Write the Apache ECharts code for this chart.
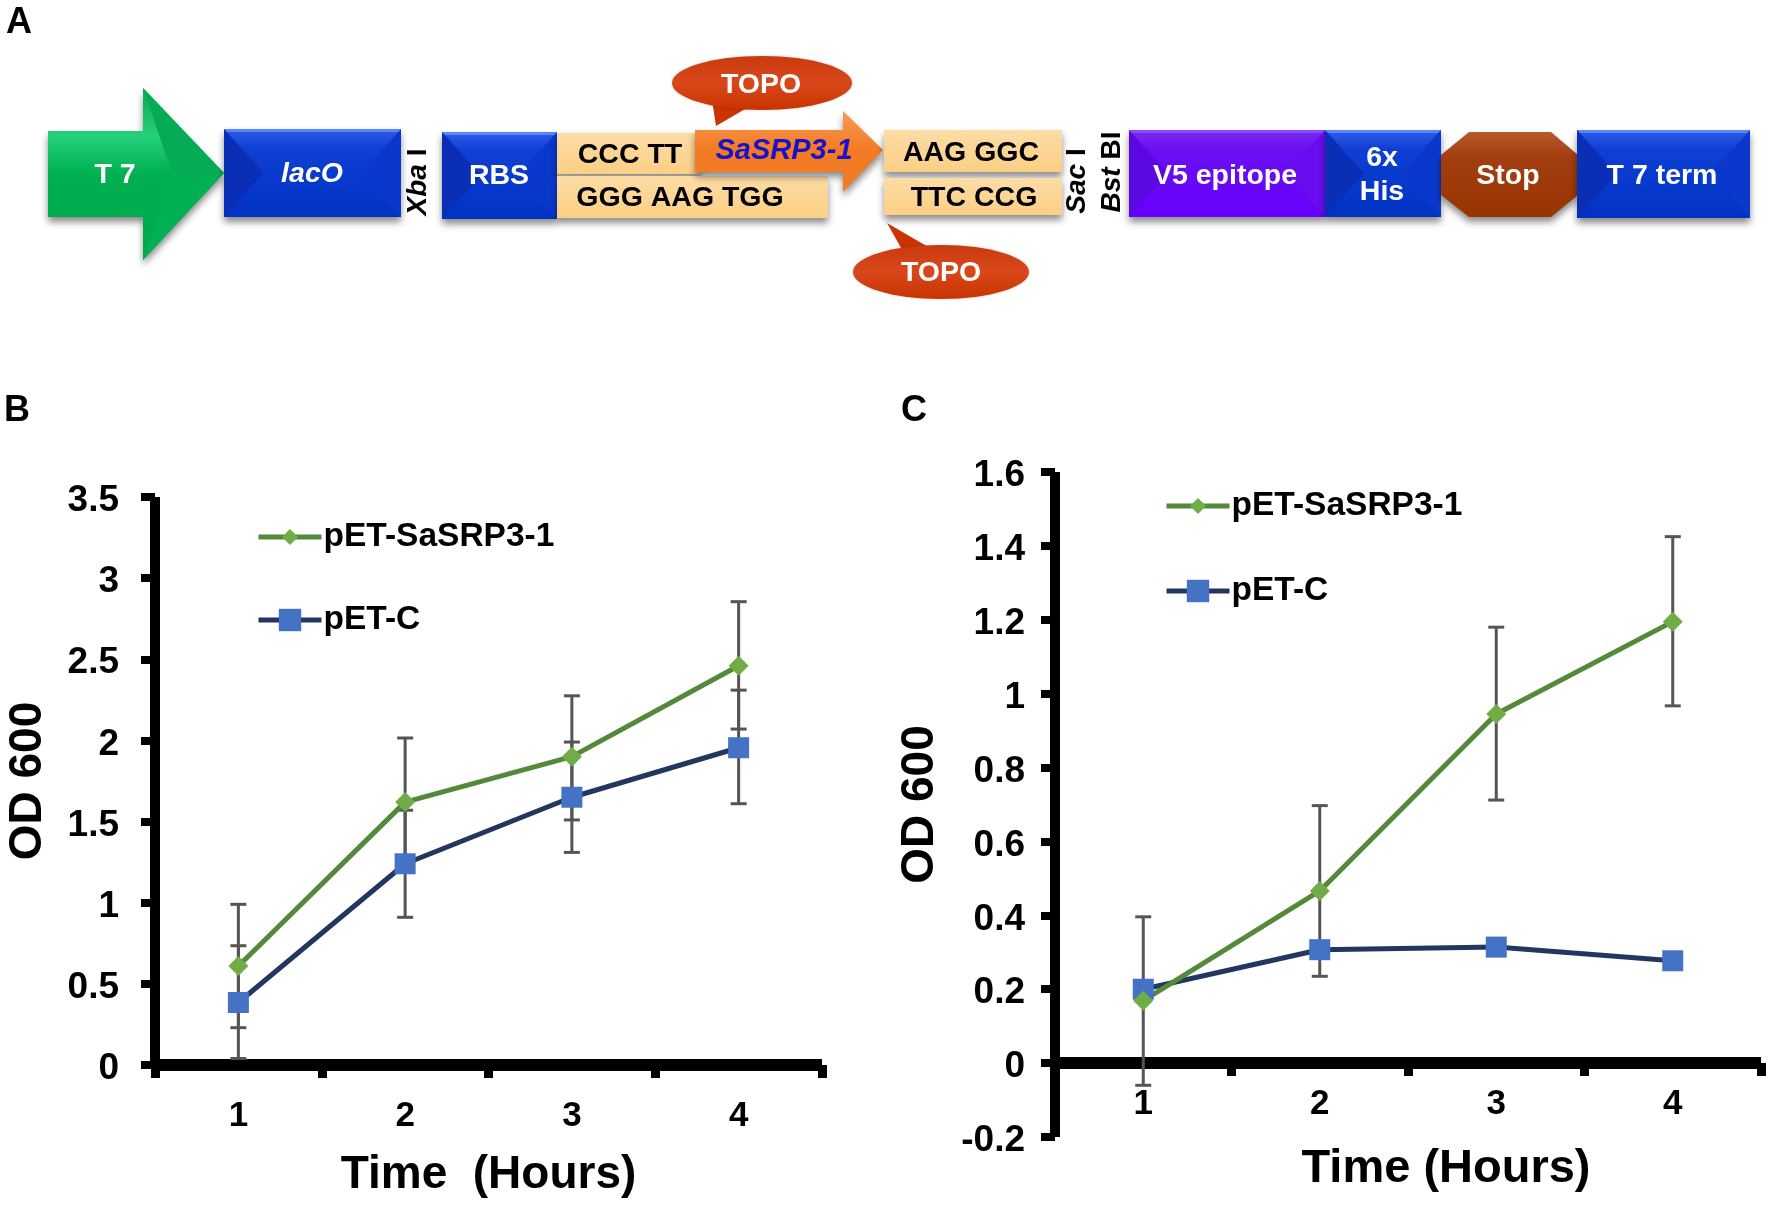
<!DOCTYPE html>
<html><head><meta charset="utf-8">
<style>html,body{margin:0;padding:0;background:#fff}#c{width:1774px;height:1205px}</style>
<script src="https://cdn.jsdelivr.net/npm/echarts@6/dist/echarts.min.js"></script>
</head><body><div id="c"></div>
<script>
const hours = ['1','2','3','4'];
const nameGreen = 'pET-SaSRP3-1';
const nameBlue = 'pET-C';
// Panel B
const bGreen = [0.61,1.62,1.90,2.46];
const bGreenLow = [0.23,1.23,1.51,2.07];
const bGreenHigh = [0.99,2.015,2.275,2.855];
const bBlue = [0.385,1.24,1.65,1.955];
const bBlueLow = [0.04,0.91,1.31,1.61];
const bBlueHigh = [0.735,1.57,1.99,2.31];
// Panel C
const cGreen = [0.169,0.466,0.945,1.195];
const cGreenLow = [-0.06,0.235,0.712,0.967];
const cGreenHigh = [0.396,0.697,1.18,1.425];
const cBlue = [0.20,0.307,0.314,0.277];

const FONT = '"Liberation Sans", Arial, sans-serif';
const GREEN_LINE = '#55893a', GREEN_MARK = '#70ad47', BLUE_LINE = '#22365f', BLUE_MARK = '#4472c4', ERR = '#555555';

function axisX(gridIndex, nameGap, pad, margin, nameSize){
  return {type:'category',gridIndex,data:hours,boundaryGap:true,
    axisLine:{show:true,onZero:true,lineStyle:{color:'#000',width:12,cap:'butt'}},
    axisTick:{show:true,alignWithLabel:false,length:13,lineStyle:{color:'#000',width:9}},
    axisLabel:{color:'#000',fontFamily:FONT,fontSize:35,fontWeight:'bold',margin},
    splitLine:{show:false},
    name:'Time'+(gridIndex===0?'  ':' ')+'(Hours)',nameLocation:'middle',nameGap,nameMoveOverlap:false,
    nameTextStyle:{color:'#000',fontFamily:FONT,fontSize:nameSize,fontWeight:'bold',padding:pad}};
}
function axisY(gridIndex,min,max,interval,nameGap,margin){
  return {type:'value',gridIndex,min,max,interval,
    axisLine:{show:true,onZero:false,lineStyle:{color:'#000',width:10,cap:'butt'}},
    axisTick:{show:true,length:14,lineStyle:{color:'#000',width:8}},
    axisLabel:{color:'#000',fontFamily:FONT,fontSize:37,fontWeight:'bold',margin,verticalAlign:'top',lineHeight:8},
    splitLine:{show:false},
    name:'OD 600',nameLocation:'middle',nameGap,nameRotate:90,nameMoveOverlap:false,
    nameTextStyle:{color:'#000',fontFamily:FONT,fontSize:46,fontWeight:'bold'}};
}
function lineSeries(name,data,i,lineColor,markColor,symbol,size,width){
  return {type:'line',name,data,xAxisIndex:i,yAxisIndex:i,symbol,symbolSize:size,showSymbol:true,
    lineStyle:{color:lineColor,width},itemStyle:{color:markColor},z:5,animation:false,clip:false};
}
function errSeries(i,low,high){
  return {type:'custom',xAxisIndex:i,yAxisIndex:i,silent:true,z:3,animation:false,clip:false,
    data:hours.map((h,k)=>[k,low[k],high[k]]),
    encode:{x:0,y:[1,2]},
    renderItem(params,api){
      const a=api.coord([api.value(0),api.value(1)]), b=api.coord([api.value(0),api.value(2)]);
      const st={stroke:ERR,lineWidth:3,fill:null}, cap=8;
      return {type:'group',children:[
        {type:'line',shape:{x1:a[0],y1:a[1],x2:b[0],y2:b[1]},style:st},
        {type:'line',shape:{x1:a[0]-cap,y1:a[1],x2:a[0]+cap,y2:a[1]},style:st},
        {type:'line',shape:{x1:b[0]-cap,y1:b[1],x2:b[0]+cap,y2:b[1]},style:st}]};
    }};
}
function legendOne(name,left,top,h,lw,color){
  return {data:[name],left,top,itemWidth:63,itemHeight:h,itemGap:0,orient:'vertical',selectedMode:false,padding:0,
    lineStyle:{width:lw,color},
    textStyle:{color:'#000',fontFamily:FONT,fontSize:33.5,fontWeight:'bold',padding:[0,0,0,-3]}};
}

/* ---------- Panel A schematic (construct map, not data) ---------- */
const SH={shadowBlur:7,shadowOffsetY:5,shadowColor:'rgba(0,0,0,0.45)'};
function grad(c0,c1,c2){return {type:'linear',x:0,y:0,x2:0,y2:1,colorStops:[{offset:0,color:c0},{offset:0.22,color:c1},{offset:1,color:c2}]};}
function poly(points,fill,extra){return Object.assign({type:'polygon',shape:{points},style:Object.assign({fill},extra||{})});}
function box(x0,y0,x1,y1,pal){
  const d=Math.min((y1-y0)/2,(x1-x0)/2)*0.9, ym=(y0+y1)/2;
  return [
    {type:'rect',shape:{x:x0,y:y0,width:x1-x0,height:y1-y0},style:Object.assign({fill:grad(pal[0],pal[1],pal[2])},SH)},
    poly([[x0,y0],[x0+d,ym],[x0,y1]],pal[3]),
    poly([[x1,y0],[x1-d,ym],[x1,y1]],pal[5]),
    poly([[x0,y0],[x1,y0],[x1-3,y0+3],[x0+3,y0+3]],pal[4])
  ];
}
function flat(x0,y0,x1,y1){
  return {type:'rect',shape:{x:x0,y:y0,width:x1-x0,height:y1-y0},
    style:Object.assign({fill:{type:'linear',x:0,y:0,x2:0,y2:1,colorStops:[{offset:0,color:'#fddca6'},{offset:1,color:'#fbcf85'}]}},SH)};
}
function label(text,x,y,opt){
  return {type:'text',x,y:y+2,rotation:0,z:10,style:Object.assign({text,fontFamily:FONT,fontSize:28.5,fontWeight:'bold',
    fill:'#fff',align:'center',verticalAlign:'middle'},opt&&opt.style)};
}
function vlabel(italicPart,rest,x,y){
  return {type:'text',x,y,rotation:Math.PI/2,z:10,style:{text:'{i|'+italicPart+'} '+rest,fontFamily:FONT,fontSize:28,fontWeight:'bold',fill:'#000',
    align:'center',verticalAlign:'middle',rich:{i:{fontFamily:FONT,fontSize:28,fontWeight:'bold',fontStyle:'italic',fill:'#000'}}}};
}
const BLUE=['#2f5ce8','#0f3fd4','#0033c4','#0a2eb6','#5c86f5','#0a38cc'];
const PURPLE=['#7a2cf2','#6a10f0','#6600ff','#5c08e0','#8c4cf5','#6a0cf0'];
const black={fill:'#000'};
const callout=(cx,cy,rx,ry,tip,b0,b1)=>[
  poly([tip,b0,b1],'#cc3300'),
  {type:'ellipse',shape:{cx,cy,rx,ry},style:Object.assign({fill:{type:'linear',x:0,y:0,x2:0,y2:1,colorStops:[{offset:0,color:'#c93a10'},{offset:0.5,color:'#d9481a'},{offset:1,color:'#c83300'}]}},{shadowBlur:3,shadowColor:'rgba(0,0,0,0.2)'})}
];
const schematic=[].concat(
  [poly([[48,131],[143,131],[143,88],[224,173],[143,260],[143,217],[48,217]],
    {type:'linear',x:0,y:0,x2:0,y2:1,colorStops:[{offset:0,color:'#0aa655'},{offset:0.28,color:'#26d07c'},{offset:0.5,color:'#00b050'},{offset:1,color:'#00a84c'}]},SH),
   poly([[143,88],[224,173],[172,173]],'#06ab56'),
   poly([[143,260],[224,173],[172,173]],'#00b052')],
  box(224,129,401,217,BLUE),
  box(442,132,557,219,BLUE),
  [flat(557,133,700,174),flat(557,176,828,218)],
  [poly([[695,130],[843,130],[843,111],[883,150],[843,192],[843,172],[695,172]],
    {type:'linear',x:0,y:0,x2:0,y2:1,colorStops:[{offset:0,color:'#f99a55'},{offset:0.5,color:'#f27a22'},{offset:1,color:'#ee7d26'}]},SH)],
  [flat(884,130,1062,172),flat(884,178,1062,215)],
  box(1129,130,1325,217,PURPLE),
  box(1325,130,1441,217,BLUE),
  [poly([[1469,132],[1551,132],[1578,155],[1578,195],[1551,217],[1469,217],[1441,195],[1441,155]],
    {type:'linear',x:0,y:0,x2:0,y2:1,colorStops:[{offset:0,color:'#b85a2c'},{offset:0.3,color:'#a23e10'},{offset:1,color:'#993300'}]},SH)],
  box(1577,130,1750,218,BLUE),
  callout(762,83,90,27,[716,126],[712,100],[752,105]),
  callout(941,272,88,27,[887,223],[905,255],[930,248]),
  [
    label('T 7',115,173),
    label('lacO',312,172,{style:{fontStyle:'italic'}}),
    vlabel('Xba','I',418,182),
    label('RBS',499,174),
    label('CCC TT',630,153,{style:black}),
    label('GGG AAG TGG',680,196,{style:black}),
    label('SaSRP3-1',784,149,{style:{fill:'#1a10c8',fontStyle:'italic',fontSize:29}}),
    label('TOPO',761,83),
    label('TOPO',941,271),
    label('AAG GGC',971,151,{style:black}),
    label('TTC CCG',974,196,{style:black}),
    vlabel('Sac','I',1077,181),
    vlabel('Bst','BI',1112,172),
    label('V5 epitope',1225,174),
    label('6x',1382,156),
    label('His',1382,190),
    label('Stop',1508,174),
    label('T 7 term',1662,174),
    label('A',19,21,{style:{fill:'#000',fontSize:36}}),
    label('B',17,409,{style:{fill:'#000',fontSize:36}}),
    label('C',914,409,{style:{fill:'#000',fontSize:36}})
  ]
);

const chart=echarts.init(document.getElementById('c'),null,{renderer:'canvas',width:1774,height:1205});
chart.setOption({
  animation:false,backgroundColor:'#fff',
  grid:[{left:155,top:497,width:667,height:568,containLabel:false,outerBoundsMode:'none'},
        {left:1055,top:472,width:706,height:665,containLabel:false,outerBoundsMode:'none'}],
  xAxis:[axisX(0,87,[0,0,0,0],34,46),axisX(1,9,[0,0,0,76],-50,47)],
  yAxis:[axisY(0,0,3.5,0.5,104,36),axisY(1,-0.2,1.6,0.2,112,30)],
  legend:[
    legendOne(nameGreen,256,520,20,5,GREEN_LINE),
    legendOne(nameBlue,256,603,28,5,BLUE_LINE),
    legendOne(nameGreen,1164,489,20,5,GREEN_LINE),
    legendOne(nameBlue,1164,574,28,5,BLUE_LINE)
  ],
  tooltip:{show:false},
  series:[
    errSeries(0,bGreenLow,bGreenHigh),
    errSeries(0,bBlueLow,bBlueHigh),
    lineSeries(nameBlue,bBlue,0,BLUE_LINE,BLUE_MARK,'rect',21,5),
    lineSeries(nameGreen,bGreen,0,GREEN_LINE,GREEN_MARK,'diamond',20,5),
    errSeries(1,cGreenLow,cGreenHigh),
    lineSeries(nameBlue,cBlue,1,BLUE_LINE,BLUE_MARK,'rect',21,5),
    lineSeries(nameGreen,cGreen,1,GREEN_LINE,GREEN_MARK,'diamond',20,5)
  ],
  graphic:{elements:schematic}
});
</script></body></html>
